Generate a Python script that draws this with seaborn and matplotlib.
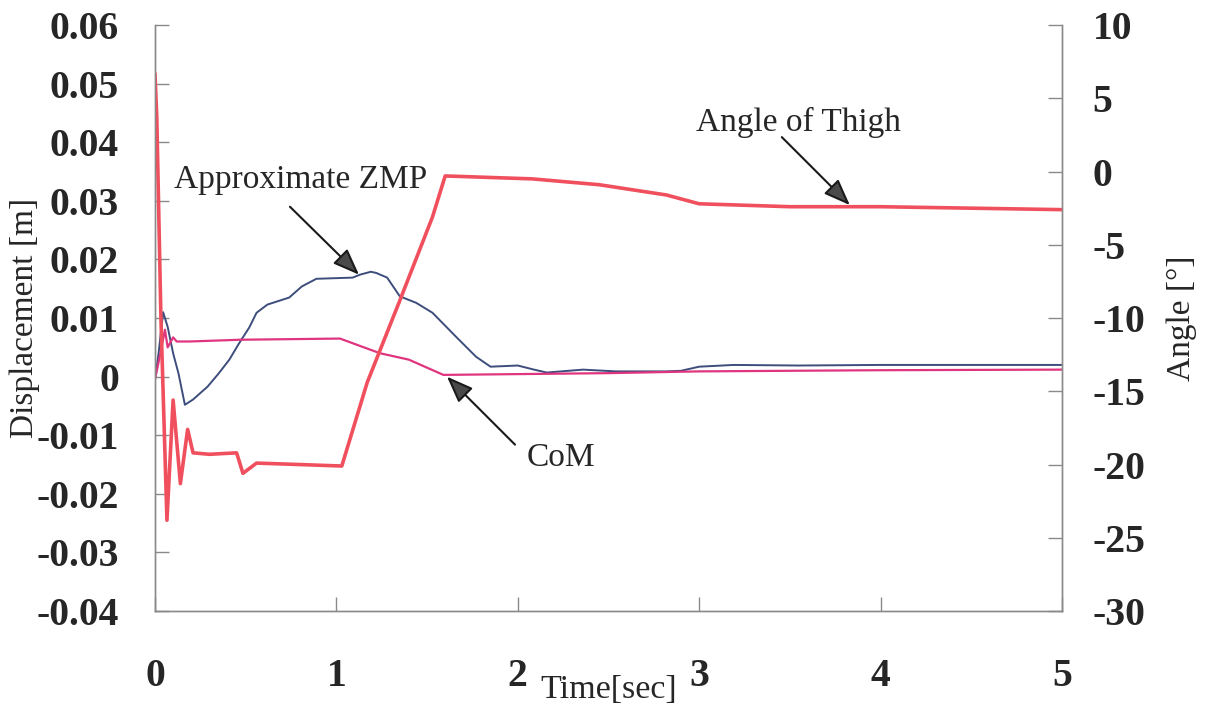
import matplotlib
matplotlib.use("Agg")
import matplotlib.pyplot as plt
import seaborn as sns

# ---------------- data ----------------
zmp_t = [0.0, 0.02, 0.045, 0.07, 0.1, 0.13, 0.165, 0.21, 0.29, 0.35, 0.41, 0.46,
         0.52, 0.56, 0.62, 0.74, 0.81, 0.89, 1.09, 1.13, 1.19, 1.22, 1.28, 1.35,
         1.44, 1.53, 1.66, 1.77, 1.85, 2.0, 2.09, 2.16, 2.36, 2.54, 2.82, 2.9,
         3.0, 3.19, 3.55, 4.0, 4.5, 5.0]
zmp_d = [-0.0005, 0.004, 0.011, 0.0085, 0.004, 0.0005, -0.0048, -0.0039, -0.0017,
         0.0005, 0.0029, 0.0055, 0.0084, 0.0109, 0.0123, 0.0135, 0.0154, 0.0167,
         0.0169, 0.0174, 0.0179, 0.0177, 0.0169, 0.0137, 0.0126, 0.0109, 0.0068,
         0.0034, 0.0017, 0.0019, 0.0012, 0.0007, 0.0012, 0.0009, 0.0009, 0.0010,
         0.0017, 0.0020, 0.0019, 0.0020, 0.0020, 0.0020]

com_t = [0.0, 0.03, 0.055, 0.07, 0.1, 0.12, 0.19, 0.47, 1.02, 1.24, 1.4, 1.59,
         2.5, 3.0, 4.0, 5.0]
com_d = [-0.0005, 0.004, 0.008, 0.005, 0.0067, 0.006, 0.006, 0.0063, 0.0065,
         0.0040, 0.0029, 0.0003, 0.0006, 0.0009, 0.0011, 0.0012]

ang_t = [0.0, 0.01, 0.033, 0.066, 0.1, 0.14, 0.18, 0.21, 0.3, 0.45, 0.485, 0.56,
         0.8, 1.03, 1.17, 1.35, 1.53, 1.6, 2.08, 2.45, 2.82, 3.0, 3.5, 4.0, 4.5, 5.0]
ang_v = [6.7, 3.7, -10.1, -23.8, -15.6, -21.3, -17.6, -19.2, -19.3, -19.2, -20.6,
         -19.9, -20.0, -20.1, -14.4, -8.8, -3.1, -0.3, -0.5, -0.9, -1.6, -2.2,
         -2.4, -2.4, -2.5, -2.6]

x_ticks = [0, 1, 2, 3, 4, 5]
left_ticks = [-0.04, -0.03, -0.02, -0.01, 0, 0.01, 0.02, 0.03, 0.04, 0.05, 0.06]
left_labels = ["-0.04", "-0.03", "-0.02", "-0.01", "0", "0.01", "0.02", "0.03",
               "0.04", "0.05", "0.06"]
right_ticks = [-30, -25, -20, -15, -10, -5, 0, 5, 10]
right_labels = ["-30", "-25", "-20", "-15", "-10", "-5", "0", "5", "10"]

# ---------------- style ----------------
sns.set_style("white")
plt.rcParams["font.family"] = ["Liberation Serif", "DejaVu Serif"]

SERIF = ["Liberation Serif", "DejaVu Serif"]
TXT = "#262626"
SPINE = "#8a8a8a"
C_ZMP = "#3d4d7c"
C_COM = "#e0357e"
C_ANG = "#f0505e"

fig = plt.figure(figsize=(12.06, 7.24), dpi=100)
ax = fig.add_axes([0.1285, 0.156, 0.752, 0.8094])
ax2 = ax.twinx()

sns.lineplot(x=zmp_t, y=zmp_d, ax=ax, color=C_ZMP, lw=1.4, estimator=None, sort=False)
sns.lineplot(x=com_t, y=com_d, ax=ax, color=C_COM, lw=1.6, estimator=None, sort=False)
sns.lineplot(x=ang_t, y=ang_v, ax=ax2, color=C_ANG, lw=2.6, estimator=None, sort=False)

ax.set_xlim(0, 5)
ax.set_ylim(-0.04, 0.06)
ax2.set_ylim(-30, 10)

ax.set_xticks(x_ticks)
ax.set_xticklabels([str(v) for v in x_ticks])
ax.set_yticks(left_ticks)
ax.set_yticklabels(left_labels)
ax2.set_yticks(right_ticks)
ax2.set_yticklabels(right_labels)

for a in (ax, ax2):
    a.spines["top"].set_visible(False)
    for s in ("left", "right", "bottom"):
        a.spines[s].set_color(SPINE)
        a.spines[s].set_linewidth(1.0)
    a.grid(False)

ax.tick_params(axis="y", direction="in", length=10, width=1, color=SPINE,
               left=True, right=False, pad=26)
ax.tick_params(axis="x", direction="in", length=10, width=1, color=SPINE,
               bottom=True, pad=34)
ax2.tick_params(axis="y", direction="in", length=10, width=1, color=SPINE,
                right=True, left=False, pad=22)

for lab in ax.get_xticklabels() + ax.get_yticklabels() + ax2.get_yticklabels():
    lab.set_fontfamily(SERIF)
    lab.set_fontweight("bold")
    lab.set_fontsize(28.5)
    lab.set_color(TXT)

ax.set_xlabel("Time[sec]", fontsize=24.5, color=TXT, family=SERIF,
              va="center", ha="center")
ax.xaxis.set_label_coords(0.5, -0.135)
ax.set_ylabel("Displacement [m]", fontsize=24, color=TXT, family=SERIF,
              va="center", ha="center", rotation=90)
ax.yaxis.set_label_coords(-0.1433, 0.5)
ax2.set_ylabel("Angle [°]", fontsize=24, color=TXT, family=SERIF,
               va="center", ha="center", rotation=90)
ax2.yaxis.set_label_coords(1.1323, 0.5)

arrow_kw = dict(arrowstyle="-|>,head_length=0.65,head_width=0.25",
                mutation_scale=25, edgecolor="#1a1a1a", lw=1.5,
                facecolor="#4a4a4a", shrinkA=0, shrinkB=0)

# Approximate ZMP
ax.text(0.805, 0.0336, "Approximate ZMP", fontsize=24, color=TXT, family=SERIF,
        ha="center", va="center")
ax.annotate("", xy=(1.125, 0.0174), xytext=(0.744, 0.0290), arrowprops=arrow_kw)

# CoM
ax.text(2.238, -0.01382, "CoM", fontsize=24, color=TXT, family=SERIF,
        ha="center", va="center")
ax.annotate("", xy=(1.61, 0.0), xytext=(1.985, -0.0116), arrowprops=arrow_kw)

# Angle of Thigh
ax2.text(3.545, 3.38, "Angle of Thigh", fontsize=24, color=TXT, family=SERIF,
         ha="center", va="center")
ax2.annotate("", xy=(3.831, -2.29), xytext=(3.456, 2.35), arrowprops=arrow_kw)

fig.savefig("out.png", dpi=100, facecolor="white")
